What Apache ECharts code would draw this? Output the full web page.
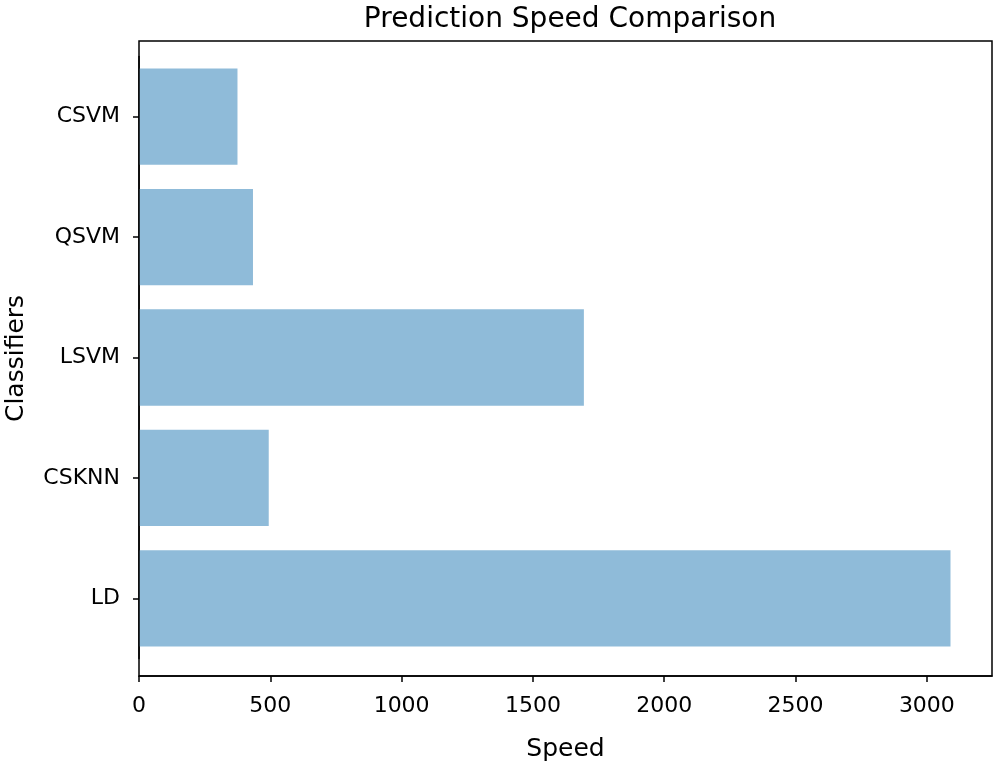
<!DOCTYPE html>
<html>
<head>
<meta charset="utf-8">
<script src="https://cdn.jsdelivr.net/npm/echarts@6/dist/echarts.min.js"></script>
<style>
  html, body { margin: 0; padding: 0; background: #fff; }
  #myChart { width: 1000px; height: 768px; }
</style>
</head>
<body>
<div id="myChart"></div>
<script>
// data, bottom to top as drawn
var classifiers = ['LD', 'CSKNN', 'LSVM', 'QSVM', 'CSVM'];
var speeds = [3090, 494, 1694, 434, 375];
var speedTicks = [0, 500, 1000, 1500, 2000, 2500, 3000];
var speedMax = 3248;

var FONT = 'DejaVu Sans';
var myChart = echarts.init(document.getElementById('myChart'));

myChart.setOption({
  animation: false,
  title: {
    text: 'Prediction Speed Comparison',
    left: 565, top: 1, textAlign: 'center',
    textStyle: { fontFamily: FONT, fontSize: 28, fontWeight: 'normal', color: '#000' }
  },
  grid: [
    // frame + speed axis
    { left: 139, right: 8, top: 41, bottom: 92, outerBoundsMode: 'none', containLabel: false,
      show: true, borderColor: '#000', borderWidth: 1.5, backgroundColor: 'transparent' },
    // bars, with matplotlib-like band spacing
    { left: 139, right: 8, top: 56.5, height: 602, outerBoundsMode: 'none', containLabel: false }
  ],
  xAxis: [
    {
      gridIndex: 0, type: 'value', min: 0, max: speedMax,
      name: 'Speed', nameLocation: 'middle', nameGap: 61,
      nameTextStyle: { fontFamily: FONT, fontSize: 25, color: '#000' },
      axisLine: { show: true, lineStyle: { color: '#000', width: 1.5 } },
      axisTick: { show: true, length: 6, customValues: speedTicks, lineStyle: { color: '#000', width: 1.5 } },
      axisLabel: { customValues: speedTicks, formatter: function (v) { return String(v); },
        fontFamily: FONT, fontSize: 22, color: '#000', margin: 19 },
      splitLine: { show: false }
    },
    {
      gridIndex: 1, type: 'value', min: 0, max: speedMax, show: false
    }
  ],
  yAxis: [
    {
      gridIndex: 0, type: 'value', min: 0, max: 1,
      name: 'Classifiers', nameLocation: 'middle', nameGap: 110, nameRotate: 90,
      nameTextStyle: { fontFamily: FONT, fontSize: 25, color: '#000' },
      axisLine: { show: false }, axisTick: { show: false }, axisLabel: { show: false },
      splitLine: { show: false }
    },
    {
      // left spine over the bars
      gridIndex: 1, type: 'category', data: classifiers, z: 5,
      axisLine: { show: true, lineStyle: { color: '#000', width: 1.5 } },
      axisTick: { show: true, alignWithLabel: true, length: 6, lineStyle: { color: '#000', width: 1.5 } },
      axisLabel: { fontFamily: FONT, fontSize: 22, color: '#000', margin: 19 }
    }
  ],
  series: [
    {
      type: 'bar', xAxisIndex: 1, yAxisIndex: 1,
      data: speeds,
      barCategoryGap: '20%',
      itemStyle: { color: '#8fbbd9' }
    }
  ]
});
</script>
</body>
</html>
